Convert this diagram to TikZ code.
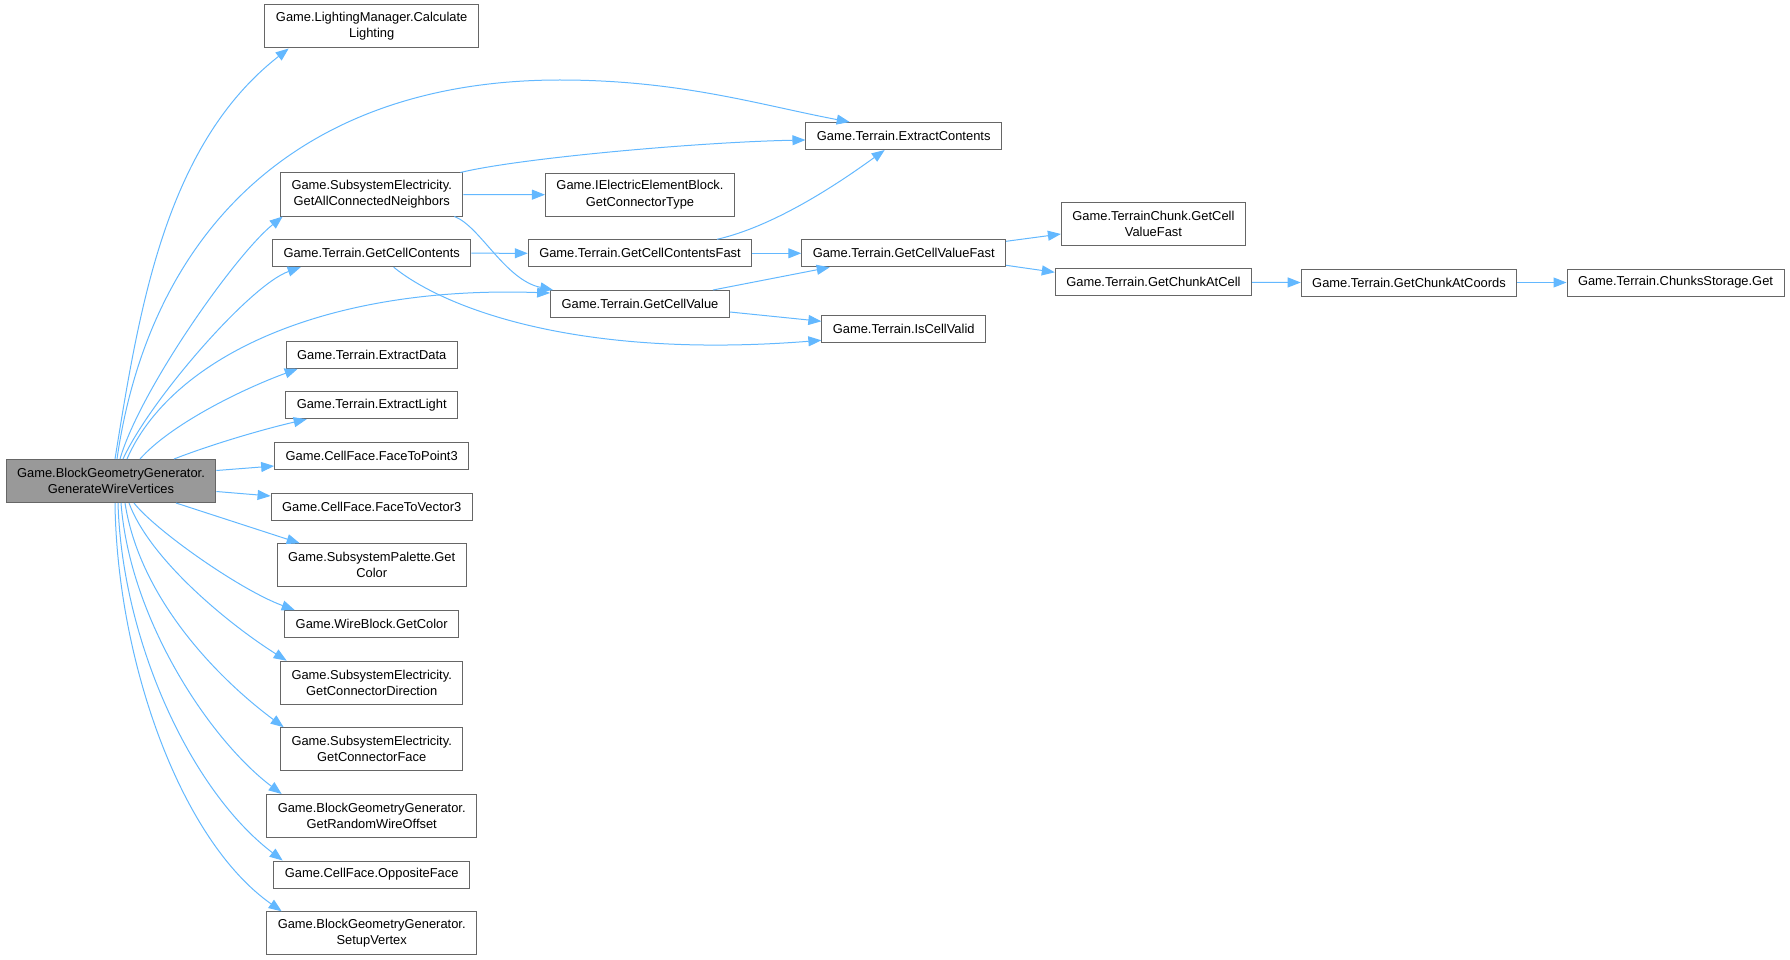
\documentclass[tikz,border=0pt]{standalone}
\usepackage{fontspec}
\setmainfont{Liberation Sans}
\usetikzlibrary{arrows.meta,calc}
\definecolor{callblue}{HTML}{63B8FF}
\definecolor{boxgray}{HTML}{666666}
\definecolor{maingray}{HTML}{999999}
\newcommand{\fnfont}{\fontsize{12.9}{16.3}\selectfont}
\tikzset{
	fn/.style={draw=boxgray, fill=white, line width=1pt, inner xsep=11pt, inner ysep=0pt,
		minimum height=27pt, align=center, font=\fnfont},
	fntwo/.style={fn, minimum height=43pt},
	fnmain/.style={fntwo, fill=maingray},
	callarrow/.style={-{Triangle[length=13pt,width=10pt]}, draw=callblue, line width=1pt}
}

\begin{document}
\begin{tikzpicture}[x=1pt,y=-1pt]
	\useasboundingbox (0,0) rectangle (1790,960);

	% Knoten
	\node[fnmain] (gwv) at (111,481) {Game.BlockGeometryGenerator.\\GenerateWireVertices};

	\node[fntwo] (calclight) at (371.7,26.5) {Game.LightingManager.Calculate\\Lighting};
	\node[fntwo] (getallnb) at (371.7,194.5) {Game.SubsystemElectricity.\\GetAllConnectedNeighbors};
	\node[fn] (getcellcont) at (371.7,253.2) {Game.Terrain.GetCellContents};
	\node[fn] (extdata) at (371.7,354.8) {Game.Terrain.ExtractData};
	\node[fn] (extlight) at (371.7,405.2) {Game.Terrain.ExtractLight};
	\node[fn] (facepoint) at (371.7,456) {Game.CellFace.FaceToPoint3};
	\node[fn] (facevector) at (371.7,506.5) {Game.CellFace.FaceToVector3};
	\node[fntwo] (palcolor) at (371.7,565.2) {Game.SubsystemPalette.Get\\Color};
	\node[fn] (wirecolor) at (371.7,624) {Game.WireBlock.GetColor};
	\node[fntwo] (conndir) at (371.7,682.7) {Game.SubsystemElectricity.\\GetConnectorDirection};
	\node[fntwo] (connface) at (371.7,749.2) {Game.SubsystemElectricity.\\GetConnectorFace};
	\node[fntwo] (randoffset) at (371.7,816) {Game.BlockGeometryGenerator.\\GetRandomWireOffset};
	\node[fn] (oppface) at (371.7,874.5) {Game.CellFace.OppositeFace};
	\node[fntwo] (setupvertex) at (371.7,933.3) {Game.BlockGeometryGenerator.\\SetupVertex};

	\node[fntwo] (getconntype) at (640,194.7) {Game.IElectricElementBlock.\\GetConnectorType};
	\node[fn] (getcellcontfast) at (640,253.3) {Game.Terrain.GetCellContentsFast};
	\node[fn] (getcellval) at (640,304) {Game.Terrain.GetCellValue};

	\node[fn] (extcont) at (903.7,136) {Game.Terrain.ExtractContents};
	\node[fn] (getcellvalfast) at (903.7,253.3) {Game.Terrain.GetCellValueFast};
	\node[fn] (iscellvalid) at (903.7,329.3) {Game.Terrain.IsCellValid};

	\node[fntwo] (chunkvalfast) at (1153.4,224) {Game.TerrainChunk.GetCell\\ValueFast};
	\node[fn] (chunkatcell) at (1153.4,282.3) {Game.Terrain.GetChunkAtCell};
	\node[fn] (chunkatcoords) at (1409,282.5) {Game.Terrain.GetChunkAtCoords};
	\node[fn] (storageget) at (1675.5,282.5) {Game.Terrain.ChunksStorage.Get};

	% Aufrufe von GenerateWireVertices
	\draw[callarrow] ([xshift=4]gwv.north) .. controls (139,310) and (165,145) .. ([xshift=-83]calclight.south);
	\draw[callarrow] ([xshift=6]gwv.north) .. controls (150,230) and (300,80) .. (560,80)
		.. controls (680,80) and (760,105) .. ([xshift=-54]extcont.north);
	\draw[callarrow] ([xshift=9]gwv.north) .. controls (140,390) and (235,255) .. ([xshift=-89]getallnb.south);
	\draw[callarrow] ([xshift=12]gwv.north) .. controls (150,400) and (250,285) .. ([xshift=-71]getcellcont.south);
	\draw[callarrow] ([xshift=16]gwv.north) .. controls (170,360) and (320,285) .. ([yshift=11]getcellval.west);
	\draw[callarrow] ([xshift=29]gwv.north) .. controls (170,425) and (240,390) .. ([xshift=-74]extdata.south);
	\draw[callarrow] ([xshift=63]gwv.north) .. controls (210,445) and (260,430) .. ([xshift=-65]extlight.south);
	\draw[callarrow] ([yshift=10.5]gwv.east) -- ([yshift=-10]facepoint.west);
	\draw[callarrow] ([yshift=-10.5]gwv.east) -- ([yshift=10.5]facevector.west);
	\draw[callarrow] ([xshift=65]gwv.south) -- ([xshift=-72]palcolor.north);
	\draw[callarrow] ([xshift=23]gwv.south) .. controls (155,530) and (240,590) .. ([xshift=-77]wirecolor.north);
	\draw[callarrow] ([xshift=18]gwv.south) .. controls (150,560) and (230,625) .. ([xshift=-85]conndir.north);
	\draw[callarrow] ([xshift=14]gwv.south) .. controls (140,600) and (220,680) .. ([xshift=-88]connface.north);
	\draw[callarrow] ([xshift=10]gwv.south) .. controls (130,620) and (210,740) .. ([xshift=-90]randoffset.north);
	\draw[callarrow] ([xshift=7]gwv.south) .. controls (122,640) and (190,790) .. ([xshift=-89]oppface.north);
	\draw[callarrow] ([xshift=4]gwv.south) .. controls (117,660) and (180,840) .. ([xshift=-90]setupvertex.north);

	% weitere Aufrufe
	\draw[callarrow] ([xshift=-3]getallnb.north east) .. controls (520,158) and (700,142) .. ([yshift=-4]extcont.west);
	\draw[callarrow] (getallnb.east) -- (getconntype.west);
	\draw[callarrow] ([xshift=-9]getallnb.south east) .. controls (480,226) and (505,280) .. ([xshift=3]getcellval.north west);
	\draw[callarrow] (getcellcont.east) -- (getcellcontfast.west);
	\draw[callarrow] ([xshift=22]getcellcont.south) .. controls (440,305) and (570,360) .. ([yshift=-11]iscellvalid.west);
	\draw[callarrow] ([xshift=77]getcellcontfast.north) .. controls (780,225) and (850,175) .. ([xshift=-19]extcont.south);
	\draw[callarrow] (getcellcontfast.east) -- (getcellvalfast.west);
	\draw[callarrow] ([xshift=73]getcellval.north) -- ([xshift=-74]getcellvalfast.south);
	\draw[callarrow] ([yshift=-8]getcellval.east) -- ([yshift=8]iscellvalid.west);
	\draw[callarrow] ([yshift=12]getcellvalfast.east) -- ([yshift=-10]chunkvalfast.west);
	\draw[callarrow] ([yshift=-12]getcellvalfast.east) -- ([yshift=10]chunkatcell.west);
	\draw[callarrow] (chunkatcell.east) -- (chunkatcoords.west);
	\draw[callarrow] (chunkatcoords.east) -- (storageget.west);
\end{tikzpicture}
\end{document}
